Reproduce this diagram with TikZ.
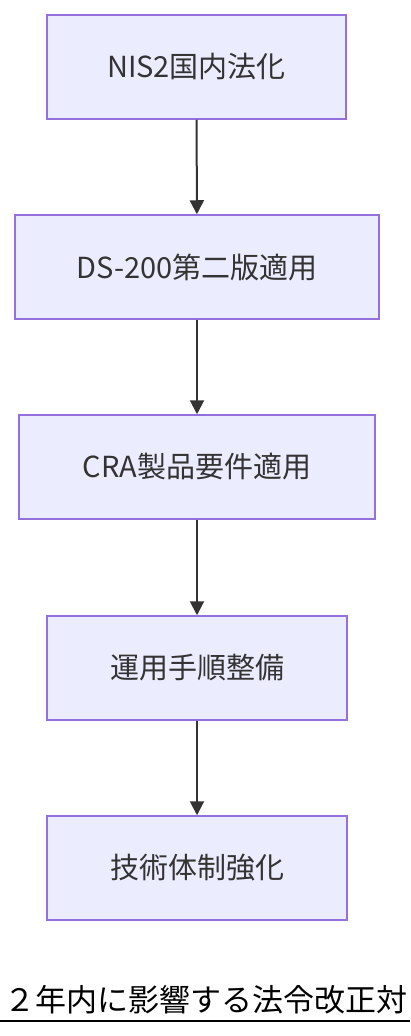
\documentclass[tikz,border=0pt]{standalone}
\usepackage{fontspec}
\setmainfont{Noto Sans CJK JP}
\usetikzlibrary{arrows.meta}
\definecolor{boxfill}{HTML}{ECECFF}
\definecolor{boxline}{HTML}{9370DB}
\definecolor{arrowcol}{HTML}{333333}
\begin{document}
\begin{tikzpicture}[x=1pt,y=-1pt]
        \tikzset{stepbox/.style = {shape=rectangle,draw=boxline,fill=boxfill,line width=1.5pt,
            minimum height=104pt,inner sep=0pt,font=\fontsize{29}{34}\selectfont,text=arrowcol}}
        \tikzset{edge/.style = {draw=arrowcol,line width=2pt,-{Triangle[length=14pt,width=14pt]}}}
        \useasboundingbox (0,0) rectangle (410,1036);
        % process steps
        \node[stepbox,minimum width=299pt] (nis) at (196.5,67) {NIS2国内法化};
        \node[stepbox,minimum width=364pt] (ds) at (197,267) {DS-200第二版適用};
        \node[stepbox,minimum width=356pt] (cra) at (197,467) {CRA製品要件適用};
        \node[stepbox,minimum width=300pt] (ops) at (197,668) {運用手順整備};
        \node[stepbox,minimum width=300pt] (tech) at (197,868) {技術体制強化};
        % arrows between steps
        \draw[edge] (nis) to (ds);
        \draw[edge] (ds) to (cra);
        \draw[edge] (cra) to (ops);
        \draw[edge] (ops) to (tech);
        % caption at the bottom
        \node[anchor=base west,inner sep=0pt,font=\fontsize{31}{36}\selectfont] (cap) at (4,1011) {２年内に影響する法令改正対};
        \draw[line width=2pt] (0,1021) -- (410,1021);
\end{tikzpicture}
\end{document}
